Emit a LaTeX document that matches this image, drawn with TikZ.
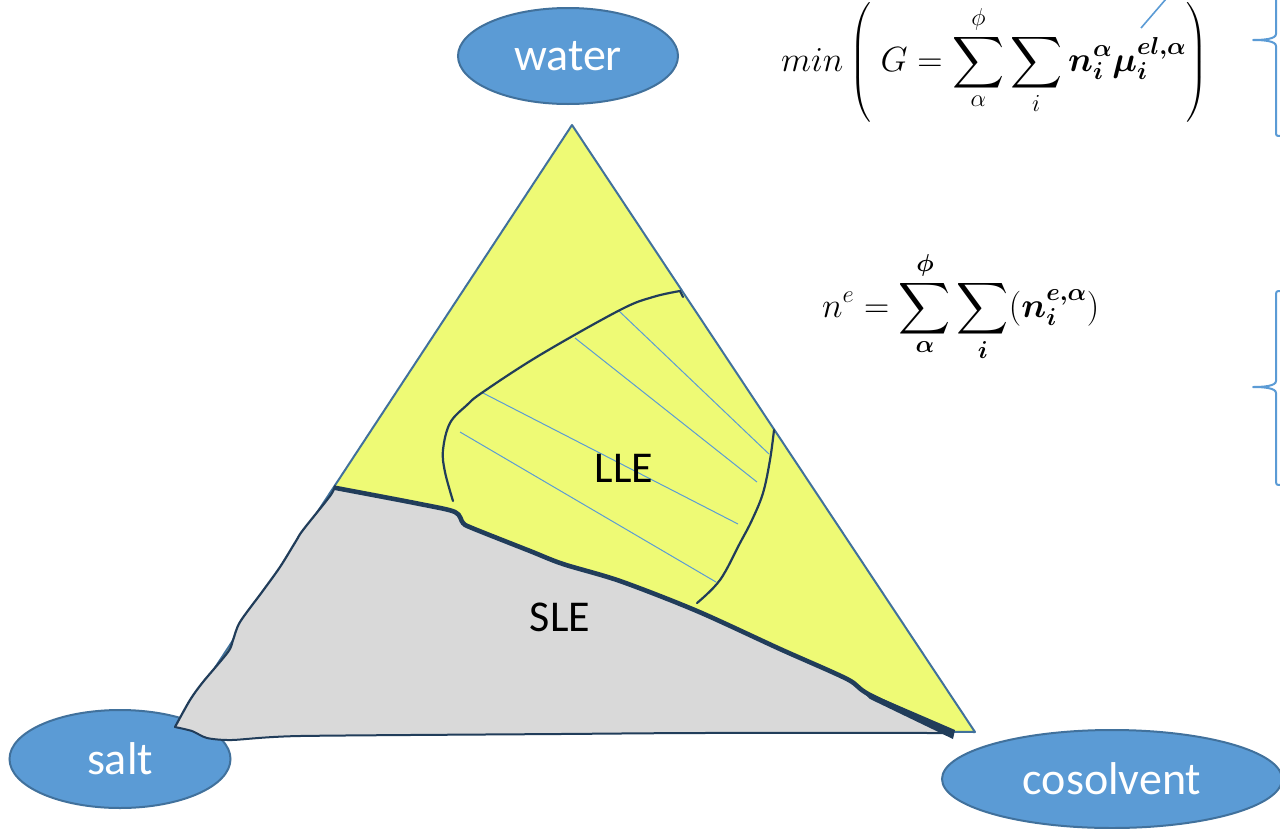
\RequirePackage{fix-cm}
\documentclass[tikz,border=0pt]{standalone}
\usepackage{amsmath}
\usepackage{bm}
\usepackage{graphicx}
\usepackage{fontspec}
\newfontfamily\carlito{Carlito}
\usetikzlibrary{shapes.geometric}
\definecolor{triyellow}{RGB}{238,250,117}
\definecolor{triedge}{RGB}{65,113,156}
\definecolor{slegray}{RGB}{217,217,217}
\definecolor{darkline}{RGB}{33,61,90}
\definecolor{ellfill}{RGB}{91,155,213}
\definecolor{tieblue}{RGB}{91,155,213}
\newcommand{\Bsum}{\mathop{\vcenter{\hbox{\scalebox{1.45}{$\displaystyle\sum$}}}}\limits}
\tikzset{
  compo/.style={ellipse, draw=triedge, line width=2pt, fill=ellfill, text=white, inner sep=0pt, font=\carlito\fontsize{46}{50}\selectfont},
  region/.style={text=black, inner sep=0pt, font=\carlito\fontsize{44}{48}\selectfont},
  formula/.style={anchor=base west, inner sep=0pt, font=\fontsize{35}{40}\selectfont},
  binodal/.style={draw=darkline, line width=2.2pt, line cap=round},
  tieline/.style={draw=tieblue, line width=1pt},
  bracestyle/.style={draw=tieblue, line width=2pt, line join=round},
}
\begin{document}
\begin{tikzpicture}[x=1pt,y=-1pt]
\useasboundingbox (0,0) rectangle (1280,828);
% component ellipses
\node[compo, minimum width=220pt, minimum height=96pt] (water) at (568,56) {water};
\node[compo, minimum width=221pt, minimum height=98pt] (salt) at (120,759) {salt};
\node[compo, minimum width=340pt, minimum height=98pt] (cosolvent) at (1112,779) {cosolvent};
% triangle
\coordinate (top) at (572,125);
\coordinate (bl) at (176,727);
\coordinate (br) at (975,732);
\filldraw[fill=triyellow, draw=triedge, line width=2pt, line join=round] (top) -- (bl) -- (br) -- cycle;
% SLE region
\fill[slegray] plot[smooth, tension=0.5] coordinates {(335,486) (420,503) (455,511) (463,522) (472,527) (530,550) (563,563) (620,580) (697,610) (780,648) (847,678) (870,694) (950,732)}
  -- plot[smooth, tension=0.4] coordinates {(950,733) (700,733) (560,734) (300,736) (232,740) (207,738) (192,731) (175,727)}
  -- plot[smooth, tension=0.5] coordinates {(175,727) (190,700) (203,682) (228,652) (233,640) (240,622) (262,592) (280,567) (296,541) (303,530) (330,496) (335,486)}
  -- cycle;
\draw[darkline, line width=2pt, line cap=round] plot[smooth, tension=0.4] coordinates {(950,733) (700,733) (560,734) (300,736) (232,740) (207,738) (192,731) (175,727)};
\draw[darkline, line width=2.2pt, line cap=round] plot[smooth, tension=0.5] coordinates {(175,727) (190,700) (203,682) (228,652) (233,640) (240,622) (262,592) (280,567) (296,541) (303,530) (330,496) (335,486)};
\draw[darkline, line width=4.6pt, line cap=round] plot[smooth, tension=0.5] coordinates {(336,488) (420,504) (455,512) (463,523) (472,528) (530,551) (563,564) (620,581) (697,611) (780,649) (847,679) (870,695) (950,733)};
\fill[darkline] (860,689) -- (955,730) -- (953,739) -- (870,699) -- cycle;
% tie lines
\draw[tieline] (619,311) -- (769,454);
\draw[tieline] (575,338) -- (757,482);
\draw[tieline] (483,393) -- (738,524);
\draw[tieline] (460,432) -- (716,582);
% binodal curves
\draw[binodal] plot[smooth, tension=0.6] coordinates {(453,501) (445,472) (443,450) (450,423) (467,405) (483,392) (540,355) (620,310) (653,297) (680,291)} -- (683,297);
\draw[binodal] plot[smooth, tension=0.6] coordinates {(774,430) (770,460) (763,493) (752,520) (740,543) (720,580) (697,603)};
% region labels
\node[region] (lle) at (624,468) {LLE};
\node[region] (sle) at (560,617) {SLE};
% formulas
\node[formula] (f1) at (781,71) {$\displaystyle min\left(\;G = \Bsum_{\alpha}^{\phi}\Bsum_{i}\bm{n}_{\bm{i}}^{\bm{\alpha}}\bm{\mu}_{\bm{i}}^{\bm{el,\alpha}}\right)$};
\node[formula] (f2) at (822,317) {$\displaystyle n^{e} = \Bsum_{\bm{\alpha}}^{\bm{\phi}}\Bsum_{\bm{i}}(\bm{n}_{\bm{i}}^{\bm{e,\alpha}})$};
% callout leader
\coordinate (lead1) at (1141,28);
\coordinate (lead2) at (1172,-8);
\draw[tieline, line width=1.6pt] (lead1) -- (lead2);
% braces
\draw[bracestyle] (1281,-56) .. controls (1276,-56) .. (1276,-50) -- (1276,34) .. controls (1276,39) and (1264,40) .. (1253,40) .. controls (1264,40) and (1276,41) .. (1276,46) -- (1276,131) .. controls (1276,136) .. (1281,136);
\draw[bracestyle] (1281,291) .. controls (1276,291) .. (1276,297) -- (1276,381) .. controls (1276,386) and (1264,387) .. (1253,387) .. controls (1264,387) and (1276,388) .. (1276,393) -- (1276,479) .. controls (1276,485) .. (1281,485);
\end{tikzpicture}
\end{document}
